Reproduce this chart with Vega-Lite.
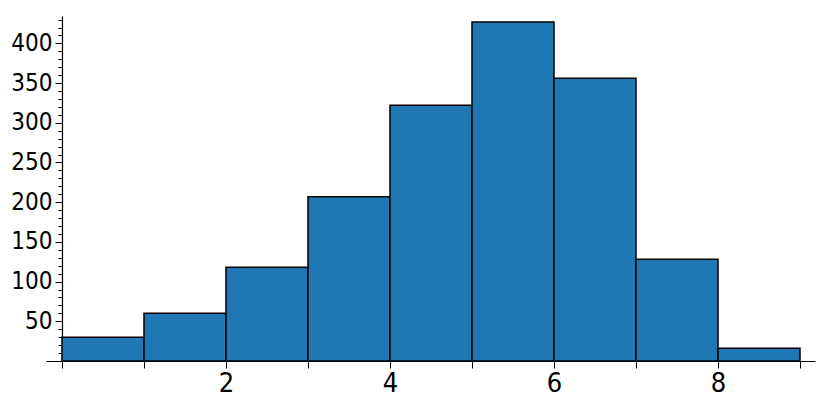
{
  "$schema": "https://vega.github.io/schema/vega-lite/v6.json",
  "autosize": "none",
  "width": 769,
  "height": 345,
  "padding": {"left": 46, "top": 16, "right": 16, "bottom": 47},
  "background": "white",
  "config": {"view": {"stroke": null}},
  "data": {"values": [
    {"start": 0, "end": 1, "count": 30, "base": 0},
    {"start": 1, "end": 2, "count": 60, "base": 0},
    {"start": 2, "end": 3, "count": 118, "base": 0},
    {"start": 3, "end": 4, "count": 207, "base": 0},
    {"start": 4, "end": 5, "count": 322, "base": 0},
    {"start": 5, "end": 6, "count": 427, "base": 0},
    {"start": 6, "end": 7, "count": 356, "base": 0},
    {"start": 7, "end": 8, "count": 128, "base": 0},
    {"start": 8, "end": 9, "count": 16, "base": 0}
  ]},
  "mark": {"type": "rect", "fill": "#1f77b4", "stroke": "#000000", "strokeWidth": 1.5},
  "encoding": {
    "x": {
      "field": "start", "type": "quantitative",
      "scale": {"domain": [-0.195, 9.183], "nice": false, "zero": false},
      "axis": {
        "title": null, "grid": false, "format": "d",
        "values": [0, 0.5, 1, 1.5, 2, 2.5, 3, 3.5, 4, 4.5, 5, 5.5, 6, 6.5, 7, 7.5, 8, 8.5, 9],
        "labelExpr": "(datum.value % 2 === 0 && datum.value > 0) ? format(datum.value, 'd') : ''",
        "tickSize": {"condition": {"test": "datum.value % 1 === 0", "value": 7}, "value": 4},
        "tickColor": "#000000", "domainColor": "#000000", "domainWidth": 1.2, "tickWidth": 1,
        "labelFont": "DejaVu Sans Condensed", "labelFontSize": 27, "labelColor": "#000000",
        "labelPadding": 2, "labelFlush": false, "labelOverlap": false
      }
    },
    "x2": {"field": "end"},
    "y": {
      "field": "count", "type": "quantitative",
      "scale": {"domain": [0, 434.5], "nice": false},
      "axis": {
        "title": null, "grid": false, "offset": -16, "format": "d",
        "values": [10, 20, 30, 40, 50, 60, 70, 80, 90, 100, 110, 120, 130, 140, 150, 160, 170, 180, 190, 200, 210, 220, 230, 240, 250, 260, 270, 280, 290, 300, 310, 320, 330, 340, 350, 360, 370, 380, 390, 400, 410, 420, 430],
        "labelExpr": "datum.value % 50 === 0 ? datum.label : ''",
        "tickSize": {"condition": {"test": "datum.value % 50 === 0", "value": 7}, "value": 4},
        "tickColor": "#000000", "domainColor": "#000000", "domainWidth": 1.2, "tickWidth": 1,
        "labelFont": "DejaVu Sans Condensed", "labelFontSize": 24, "labelColor": "#000000",
        "labelPadding": 3, "labelOverlap": false
      }
    },
    "y2": {"field": "base"}
  }
}
